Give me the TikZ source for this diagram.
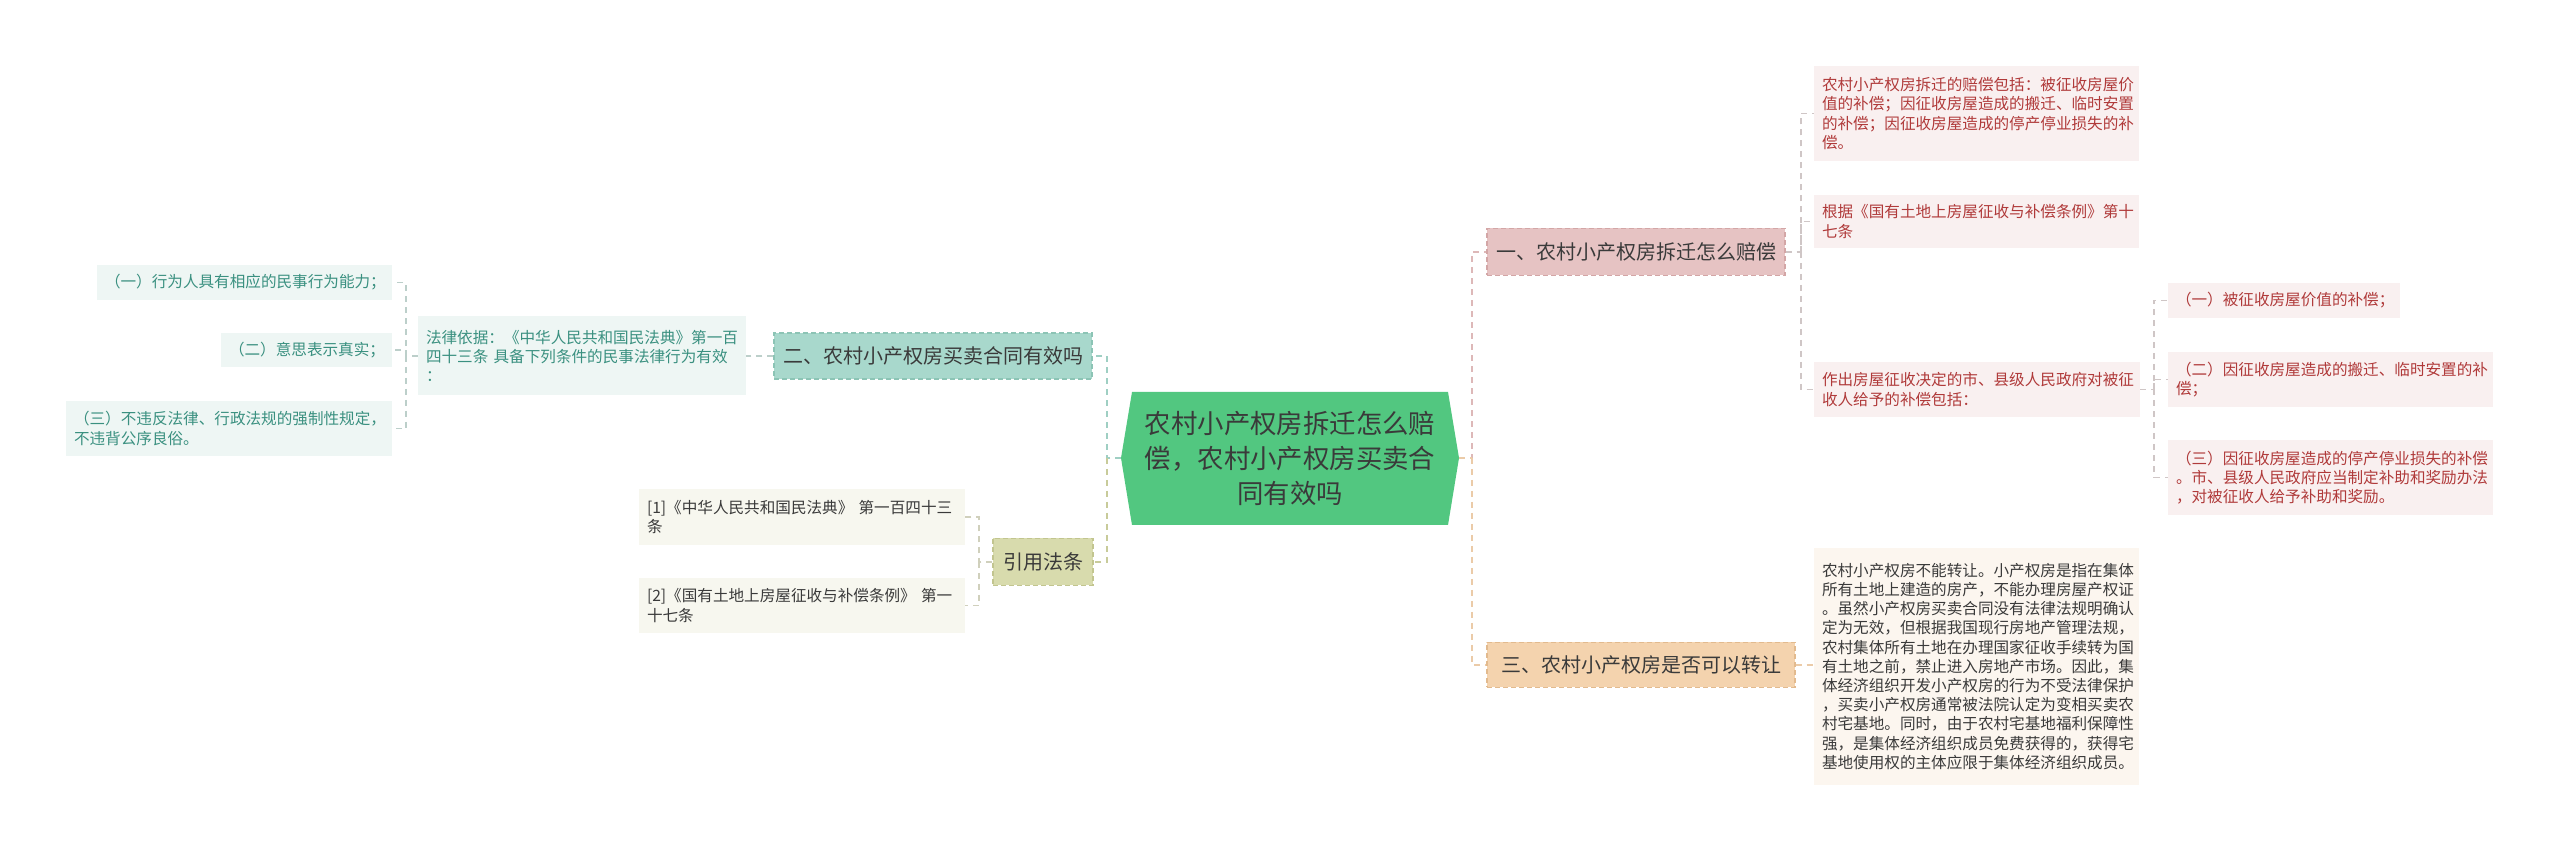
\documentclass[tikz,border=0pt]{standalone}
\usepackage{fontspec}
\setmainfont{Noto Sans CJK SC}
\definecolor{cgreen}{HTML}{52C780}
\definecolor{b1fill}{HTML}{E6C3C3}\definecolor{b1draw}{HTML}{D3A6A6}
\definecolor{b3fill}{HTML}{F4D3AE}\definecolor{b3draw}{HTML}{E2BA8E}
\definecolor{b2fill}{HTML}{A8D8CC}\definecolor{b2draw}{HTML}{8CC4B5}
\definecolor{b4fill}{HTML}{D8DBAD}\definecolor{b4draw}{HTML}{C2C58F}
\definecolor{pinkleaf}{HTML}{F9F0F0}\definecolor{pinktext}{HTML}{B03A3A}
\definecolor{tealleaf}{HTML}{EEF6F4}\definecolor{tealtext}{HTML}{3A9080}
\definecolor{oliveleaf}{HTML}{F7F7EF}\definecolor{peachleaf}{HTML}{FCF6EF}
\definecolor{darktext}{HTML}{3A3A3A}
\definecolor{cpink}{HTML}{DDB8B8}\definecolor{cpeach}{HTML}{EBCBA8}
\definecolor{cteal}{HTML}{9FCFC3}\definecolor{colive}{HTML}{C8CB9A}
\definecolor{cgray}{HTML}{CFC6C6}\definecolor{ctealgray}{HTML}{BCCFCA}
\definecolor{colivegray}{HTML}{D0D0BC}
\begin{document}
\begin{tikzpicture}[x=0.5pt,y=-0.5pt,
  conn/.style={dashed,dash pattern=on 3pt off 2.5pt,line width=0.7pt},
  branch/.style={draw,dashed,dash pattern=on 2.5pt off 1.5pt,line width=0.6pt,text=darktext,
    font=\fontsize{10pt}{12pt}\selectfont,inner sep=0pt,align=center},
  leaf/.style={inner xsep=4pt,inner ysep=0pt,align=left,
    font=\fontsize{7.8pt}{9.6pt}\selectfont},
  pleaf/.style={leaf,fill=pinkleaf,text=pinktext},
  tleaf/.style={leaf,fill=tealleaf,text=tealtext},
  oleaf/.style={leaf,fill=oliveleaf,text=darktext},
  eleaf/.style={leaf,fill=peachleaf,text=darktext}]
\fill[white] (0,0) rectangle (2560,849);
\useasboundingbox (0,0) rectangle (2560,849);
% center
\fill[cgreen] (1121,458) -- (1132,392) -- (1448,392) -- (1459,458) -- (1448,525) -- (1132,525) -- cycle;
\node[text=darktext,align=center,font=\fontsize{13.2pt}{17.5pt}\selectfont] (c) at (1290,458)
  {农村小产权房拆迁怎么赔\\偿，农村小产权房买卖合\\同有效吗};
\coordinate (cL) at (1121,458);
\coordinate (cR) at (1459,458);
% branches
\node[branch,fill=b1fill,draw=b1draw,minimum width=149pt,minimum height=23.5pt] (b1) at (1636,252) {一、农村小产权房拆迁怎么赔偿};
\node[branch,fill=b3fill,draw=b3draw,minimum width=154pt,minimum height=22.5pt] (b3) at (1641,665) {三、农村小产权房是否可以转让};
\node[branch,fill=b2fill,draw=b2draw,minimum width=159pt,minimum height=23pt] (b2) at (933,356) {二、农村小产权房买卖合同有效吗};
\node[branch,fill=b4fill,draw=b4draw,minimum width=50pt,minimum height=23.5pt] (b4) at (1043,562) {引用法条};
% right leaves
\node[pleaf,minimum width=162.5pt,minimum height=47.5pt,text width=154.5pt] (r1) at (1976.5,113.5)
  {农村小产权房拆迁的赔偿包括：被征收房屋价\\值的补偿；因征收房屋造成的搬迁、临时安置\\的补偿；因征收房屋造成的停产停业损失的补\\偿。};
\node[pleaf,minimum width=162.5pt,minimum height=26.5pt,text width=154.5pt] (r2) at (1976.5,221.5)
  {根据《国有土地上房屋征收与补偿条例》第十\\七条};
\node[pleaf,minimum width=163pt,minimum height=27.5pt,text width=155pt] (r3) at (1977,389.5)
  {作出房屋征收决定的市、县级人民政府对被征\\收人给予的补偿包括：};
\node[pleaf,minimum width=116pt,minimum height=17.5pt,text width=108pt] (s1) at (2284,300.5)
  {（一）被征收房屋价值的补偿；};
\node[pleaf,minimum width=162.5pt,minimum height=27.5pt,text width=154.5pt] (s2) at (2330.5,379.5)
  {（二）因征收房屋造成的搬迁、临时安置的补\\偿；};
\node[pleaf,minimum width=162.5pt,minimum height=37.5pt,text width=154.5pt] (s3) at (2330.5,477.5)
  {（三）因征收房屋造成的停产停业损失的补偿\\。市、县级人民政府应当制定补助和奖励办法\\，对被征收人给予补助和奖励。};
\node[eleaf,minimum width=162.5pt,minimum height=118.5pt,text width=154.5pt] (r4) at (1976.5,666.5)
  {农村小产权房不能转让。小产权房是指在集体\\所有土地上建造的房产，不能办理房屋产权证\\。虽然小产权房买卖合同没有法律法规明确认\\定为无效，但根据我国现行房地产管理法规，\\农村集体所有土地在办理国家征收手续转为国\\有土地之前，禁止进入房地产市场。因此，集\\体经济组织开发小产权房的行为不受法律保护\\，买卖小产权房通常被法院认定为变相买卖农\\村宅基地。同时，由于农村宅基地福利保障性\\强，是集体经济组织成员免费获得的，获得宅\\基地使用权的主体应限于集体经济组织成员。};
% left leaves
\node[tleaf,minimum width=164pt,minimum height=39.5pt,text width=156pt] (law) at (582,356)
  {法律依据：《中华人民共和国民法典》第一百\\四十三条 具备下列条件的民事法律行为有效\\：};
\node[tleaf,minimum width=147.5pt,minimum height=17.5pt,text width=139.5pt,align=right] (l1) at (244.5,282.5)
  {（一）行为人具有相应的民事行为能力；};
\node[tleaf,minimum width=85.5pt,minimum height=17pt,text width=77.5pt,align=right] (l2) at (306.5,350)
  {（二）意思表示真实；};
\node[tleaf,minimum width=163pt,minimum height=27.5pt,text width=155pt] (l3) at (229,428.5)
  {（三）不违反法律、行政法规的强制性规定，\\不违背公序良俗。};
\node[oleaf,minimum width=163pt,minimum height=28pt,text width=155pt] (c1) at (802,517)
  {[1]《中华人民共和国民法典》 第一百四十三\\条};
\node[oleaf,minimum width=163pt,minimum height=27.5pt,text width=155pt] (c2) at (802,605.5)
  {[2]《国有土地上房屋征收与补偿条例》 第一\\十七条};
% junctions
\coordinate (jR) at (1472,458);
\coordinate (jB1) at (1801,252);
\coordinate (jR3) at (2154,389.5);
\coordinate (jL) at (1107,458);
\coordinate (jLaw) at (406,356);
\coordinate (jC) at (979,562);
% connectors
\draw[conn,cpink] (cR) -- (jR) |- (b1.west);
\draw[conn,cpeach] (jR) |- (b3.west);
\draw[conn,cpeach] (cR) -- (jR);
\draw[conn,cgray] (b1.east) -- (jB1) |- (r1.west);
\draw[conn,cgray] (jB1) |- (r2.west);
\draw[conn,cgray] (jB1) |- (r3.west);
\draw[conn,cgray] (r3.east) -- (jR3) |- (s1.west);
\draw[conn,cgray] (jR3) |- (s2.west);
\draw[conn,cgray] (jR3) |- (s3.west);
\draw[conn,cpeach] (b3.east) -- (r4.west |- b3.east);
\draw[conn,cteal] (cL) -- (jL) |- (b2.east);
\draw[conn,colive] (jL) |- (b4.east);
\draw[conn,ctealgray] (b2.west) -- (law.east);
\draw[conn,ctealgray] (law.west) -- (jLaw) |- (l1.east);
\draw[conn,ctealgray] (jLaw) |- (l2.east);
\draw[conn,ctealgray] (jLaw) |- (l3.east);
\draw[conn,colivegray] (b4.west) -- (jC) |- (c1.east);
\draw[conn,colivegray] (jC) |- (c2.east);
\end{tikzpicture}
\end{document}
